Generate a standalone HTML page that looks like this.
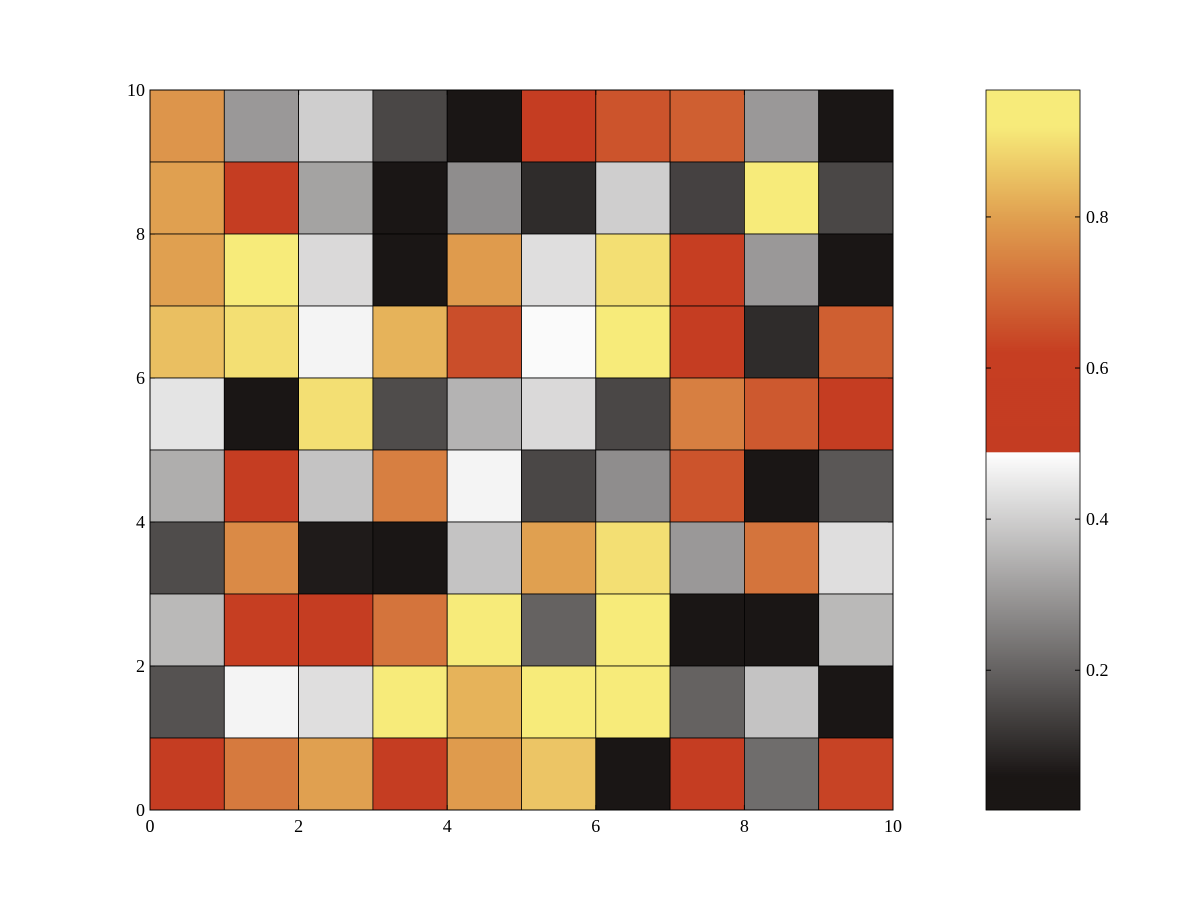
<!DOCTYPE html>
<html><head><meta charset="utf-8"><style>
html,body{margin:0;padding:0;background:#fff;}
svg text{font-family:"Liberation Serif",serif;font-size:18px;fill:#000;}
</style></head><body>
<svg id="chart" width="1200" height="900" xmlns="http://www.w3.org/2000/svg">
<rect width="1200" height="900" fill="#fff"/>
<g id="cells"></g>
<g id="axes"></g>
<g id="cbar"></g>
</svg>
<script>
// rows listed from top (y=9) to bottom (y=0)
const rowValues = [
 [0.78,0.30,0.40,0.15,0.03,0.55,0.66,0.68,0.30,0.03],
 [0.80,0.55,0.32,0.03,0.28,0.10,0.40,0.14,0.95,0.15],
 [0.80,0.93,0.42,0.03,0.79,0.43,0.90,0.62,0.30,0.03],
 [0.85,0.90,0.47,0.83,0.65,0.48,0.95,0.58,0.10,0.68],
 [0.44,0.04,0.90,0.16,0.35,0.42,0.15,0.74,0.67,0.58],
 [0.34,0.56,0.38,0.74,0.47,0.15,0.28,0.66,0.05,0.18],
 [0.16,0.76,0.07,0.05,0.38,0.80,0.90,0.30,0.72,0.43],
 [0.36,0.60,0.58,0.72,0.95,0.20,0.95,0.03,0.03,0.36],
 [0.17,0.47,0.43,0.95,0.83,0.95,0.95,0.20,0.38,0.05],
 [0.55,0.73,0.80,0.56,0.79,0.86,0.03,0.56,0.22,0.63]
];
const xTicks = [0,2,4,6,8,10];
const yTicks = [0,2,4,6,8,10];
const cbTicks = [0.2,0.4,0.6,0.8];
const cbMin = 0.015, cbMax = 0.968;

const NS="http://www.w3.org/2000/svg";
const X0=150,X1=893,Y0=810,Y1=90;
const sx=v=>X0+(X1-X0)*v/10;
const sy=v=>Y0-(Y0-Y1)*v/10;
const stops=[[0,[26,22,21]],[0.06,[26,22,21]],[0.49,[255,255,255]],[0.4901,[196,60,34]],[0.62,[198,62,34]],[0.8,[224,160,80]],[0.92,[247,235,122]],[1,[247,235,122]]];
function cmap(v){
  for(let i=0;i<stops.length-1;i++){
    const a=stops[i],b=stops[i+1];
    if(v<=b[0]){const t=Math.max(0,(v-a[0])/(b[0]-a[0]));
      const c=a[1].map((x,k)=>Math.round(x+(b[1][k]-x)*t));return `rgb(${c})`;}
  }
  return `rgb(${stops[stops.length-1][1]})`;
}
function el(tag,attrs,parent){const e=document.createElementNS(NS,tag);for(const k in attrs)e.setAttribute(k,attrs[k]);parent.appendChild(e);return e;}
const cells=document.getElementById('cells');
rowValues.forEach((row,ri)=>{
  const yv=9-ri;
  row.forEach((v,ci)=>{
    const r=el('rect',{x:sx(ci),y:sy(yv+1),width:sx(ci+1)-sx(ci),height:sy(yv)-sy(yv+1),fill:cmap(v),stroke:'#000','stroke-width':0.8},cells);
    
    
  });
});
const axes=document.getElementById('axes');
el('rect',{x:X0,y:Y1,width:X1-X0,height:Y0-Y1,fill:'none',stroke:'#000','stroke-width':1},axes);
xTicks.forEach(t=>{
  el('line',{x1:sx(t),x2:sx(t),y1:Y0,y2:Y0-5,stroke:'#000'},axes);
  el('line',{x1:sx(t),x2:sx(t),y1:Y1,y2:Y1+5,stroke:'#000'},axes);
  const tx=el('text',{x:sx(t),y:Y0+22,'text-anchor':'middle'},axes);tx.textContent=t;
  
  
});
yTicks.forEach(t=>{
  el('line',{x1:X0,x2:X0+5,y1:sy(t),y2:sy(t),stroke:'#000'},axes);
  el('line',{x1:X1,x2:X1-5,y1:sy(t),y2:sy(t),stroke:'#000'},axes);
  const tx=el('text',{x:X0-5,y:sy(t)+6,'text-anchor':'end'},axes);tx.textContent=t;
  
  
});
const cb=document.getElementById('cbar');
const CX0=986,CX1=1080;
const cy=v=>Y0-(Y0-Y1)*(v-cbMin)/(cbMax-cbMin);
for(let i=0;i<360;i++){
  const v=cbMin+(cbMax-cbMin)*(i+0.5)/360;
  el('rect',{x:CX0,y:Y0-(i+1)*2,width:CX1-CX0,height:2.3,fill:cmap(v)},cb);
}
el('rect',{x:CX0,y:Y1,width:CX1-CX0,height:Y0-Y1,fill:'none',stroke:'#000','stroke-width':0.8},cb);
cbTicks.forEach(t=>{
  el('line',{x1:CX1,x2:CX1-5,y1:cy(t),y2:cy(t),stroke:'#000'},cb);
  el('line',{x1:CX0,x2:CX0+5,y1:cy(t),y2:cy(t),stroke:'#000'},cb);
  const tx=el('text',{x:CX1+6,y:cy(t)+6},cb);tx.textContent=t.toFixed(1);
  
  
});
</script>
</body></html>
